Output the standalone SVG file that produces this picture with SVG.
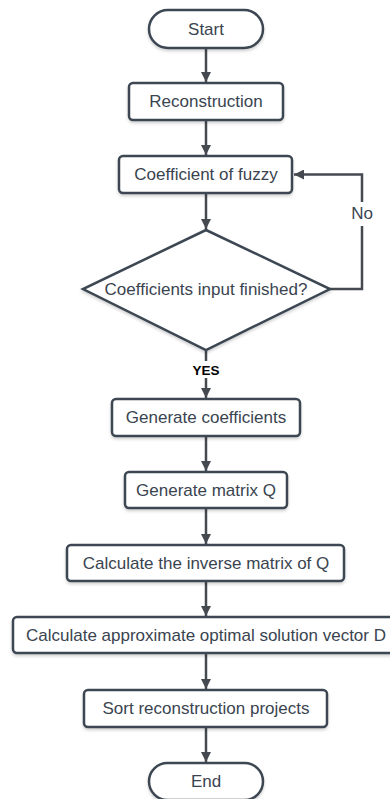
<svg xmlns="http://www.w3.org/2000/svg" width="390" height="799" viewBox="0 0 390 799">
<defs>
<marker id="ah" viewBox="0 0 10 10" refX="10" refY="5" markerWidth="4" markerHeight="4" orient="auto" markerUnits="strokeWidth">
<path d="M0,0 L10,5 L0,10 z" fill="#454a50"/>
</marker>
<filter id="sh" x="-10%" y="-20%" width="120%" height="150%">
<feDropShadow dx="0" dy="2" stdDeviation="1.5" flood-color="#000" flood-opacity="0.18"/>
</filter>
</defs>
<style>
.n{fill:#fff;stroke:#3d4752;stroke-width:2.5;filter:url(#sh)}
.t{font-family:"Liberation Sans",Arial,sans-serif;font-size:17px;fill:#3a4450;text-anchor:middle;dominant-baseline:central}
.c{fill:none;stroke:#454a50;stroke-width:2.5}
.y{font-family:"Liberation Sans",Arial,sans-serif;font-size:13.5px;font-weight:bold;fill:#000;text-anchor:middle;dominant-baseline:central}
</style>
<rect width="390" height="799" fill="#fff"/>
<g id="connectors">
<line class="c" x1="206" y1="48" x2="206" y2="82" marker-end="url(#ah)"/>
<line class="c" x1="206" y1="120" x2="206" y2="155" marker-end="url(#ah)"/>
<line class="c" x1="206" y1="193" x2="206" y2="229" marker-end="url(#ah)"/>
<polyline class="c" points="330,289 362,289 362,174.5 294,174.5" marker-end="url(#ah)"/>
<rect x="350" y="202" width="24" height="24" fill="#fff"/>
<text class="t" x="362" y="213">No</text>
<line class="c" x1="206" y1="350" x2="206" y2="361"/>
<text class="y" x="206" y="370">YES</text>
<line class="c" x1="206" y1="378" x2="206" y2="398" marker-end="url(#ah)"/>
<line class="c" x1="206" y1="436" x2="206" y2="471" marker-end="url(#ah)"/>
<line class="c" x1="206" y1="508" x2="206" y2="544" marker-end="url(#ah)"/>
<line class="c" x1="206" y1="581" x2="206" y2="616" marker-end="url(#ah)"/>
<line class="c" x1="206" y1="653" x2="206" y2="689" marker-end="url(#ah)"/>
<line class="c" x1="206" y1="727" x2="206" y2="762" marker-end="url(#ah)"/>
</g>
<g id="start">
<rect class="n" x="149" y="10" width="114" height="38" rx="19"/>
<text class="t" x="206" y="29">Start</text>
</g>
<g id="reconstruction">
<rect class="n" x="129" y="83" width="154" height="37" rx="4"/>
<text class="t" x="206" y="101.5">Reconstruction</text>
</g>
<g id="fuzzy">
<rect class="n" x="119" y="156" width="173" height="37" rx="4"/>
<text class="t" x="206" y="174.5">Coefficient of fuzzy</text>
</g>
<g id="decision">
<polygon class="n" points="206,230 330,289 206,350 83,289"/>
<text class="t" x="206" y="289">Coefficients input finished?</text>
</g>
<g id="gencoef">
<rect class="n" x="112" y="399" width="188" height="37" rx="4"/>
<text class="t" x="206" y="417.5">Generate coefficients</text>
</g>
<g id="genq">
<rect class="n" x="125" y="472" width="162" height="36" rx="4"/>
<text class="t" x="206" y="490">Generate matrix Q</text>
</g>
<g id="inverse">
<rect class="n" x="67" y="545" width="277" height="36" rx="4"/>
<text class="t" x="206" y="563">Calculate the inverse matrix of Q</text>
</g>
<g id="approx">
<rect class="n" x="13" y="617" width="386" height="36" rx="4"/>
<text class="t" x="206" y="635">Calculate approximate optimal solution vector D</text>
</g>
<g id="sort">
<rect class="n" x="84" y="690" width="243" height="37" rx="4"/>
<text class="t" x="206" y="708.5">Sort reconstruction projects</text>
</g>
<g id="end">
<rect class="n" x="149" y="763" width="114" height="37" rx="18.5"/>
<text class="t" x="206" y="781">End</text>
</g>
</svg>
